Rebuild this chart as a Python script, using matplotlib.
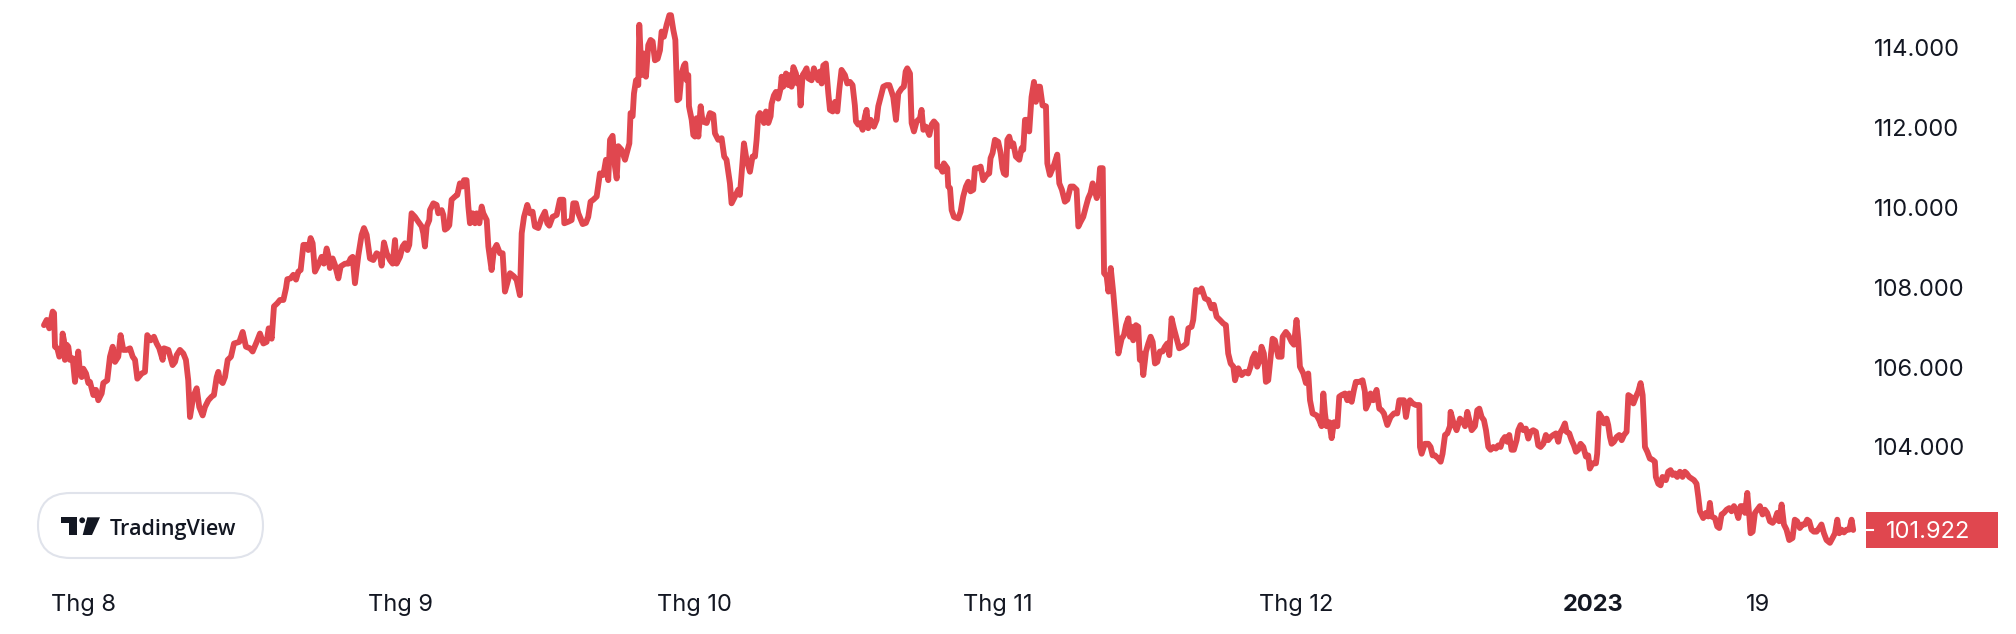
import numpy as np
import matplotlib
matplotlib.use("Agg")
import matplotlib.pyplot as plt
from matplotlib.patches import FancyBboxPatch, Rectangle, Polygon, Circle

plt.rcParams['font.family'] = ['Inter', 'DejaVu Sans']

############################################################################
# DXY line: (trading days since 1 Aug 2022, index value)
############################################################################

aug = [(-2.94, 107.05), (-2.74, 107.18), (-2.55, 106.97), (-2.30, 107.39), (-2.20, 107.35), (-2.13, 106.51),
       (-1.96, 106.47), (-1.81, 106.26), (-1.64, 106.34), (-1.57, 106.84), (-1.47, 106.67), (-1.40, 106.18),
       (-1.27, 106.56), (-1.15, 106.51), (-1.03, 106.18), (-0.83, 106.22), (-0.66, 105.63), (-0.42, 106.39),
       (-0.29, 105.84), (-0.17, 105.75), (-0.05, 105.96), (0.15, 105.84), (0.32, 105.60), (0.44, 105.63),
       (0.69, 105.30), (0.88, 105.43), (1.05, 105.17), (1.30, 105.34), (1.42, 105.60), (1.71, 105.67),
       (1.91, 106.26), (2.11, 106.51), (2.28, 106.13), (2.52, 106.26), (2.69, 106.80), (2.89, 106.43),
       (3.13, 106.43), (3.38, 106.47), (3.58, 106.26), (3.75, 106.18), (3.92, 105.71), (4.24, 105.84),
       (4.48, 105.88), (4.65, 106.80), (4.90, 106.67), (5.14, 106.76), (5.34, 106.59), (5.53, 106.47),
       (5.78, 106.18), (5.88, 106.47), (6.20, 106.43), (6.51, 106.05), (6.69, 106.13), (6.81, 106.30),
       (7.05, 106.43), (7.30, 106.34), (7.49, 106.18), (7.66, 105.67), (7.79, 104.75), (8.03, 105.26),
       (8.28, 105.47), (8.47, 105.00), (8.72, 104.79), (8.89, 105.00), (9.14, 105.17), (9.38, 105.26),
       (9.55, 105.30), (9.75, 105.75), (9.87, 105.88), (9.99, 105.67), (10.19, 105.60), (10.36, 105.75),
       (10.56, 106.18), (10.80, 106.26), (11.02, 106.59), (11.41, 106.63), (11.66, 106.88), (11.90, 106.51),
       (12.20, 106.47), (12.39, 106.39), (12.69, 106.63), (12.93, 106.84), (13.18, 106.59), (13.42, 106.63),
       (13.57, 106.97), (13.79, 106.71), (13.96, 107.52), (14.21, 107.60), (14.40, 107.68), (14.65, 107.68),
       (14.84, 107.97), (14.94, 108.20), (15.18, 108.22), (15.38, 108.31), (15.58, 108.19), (15.75, 108.39),
       (15.92, 108.43), (16.12, 109.06), (16.31, 109.06), (16.48, 108.93), (16.65, 109.23), (16.80, 109.10),
       (16.97, 108.39), (17.22, 108.56), (17.46, 108.76), (17.63, 108.59), (17.83, 108.97), (17.95, 108.80),
       (18.07, 108.48), (18.27, 108.72), (18.44, 108.56), (18.69, 108.22), (18.86, 108.52), (19.18, 108.59),
       (19.42, 108.59), (19.59, 108.72), (19.74, 108.76), (19.91, 108.10), (20.16, 108.80), (20.40, 109.31),
       (20.57, 109.48), (20.77, 109.31), (21.01, 108.72), (21.26, 108.68), (21.50, 108.85), (21.75, 108.80),
       (21.87, 108.54), (22.04, 109.12), (22.24, 108.85), (22.48, 108.68), (22.68, 108.59), (22.85, 109.18),
       (22.97, 108.59)]

sep = [(23.22, 108.76), (23.41, 109.02), (23.58, 109.10), (23.76, 108.93), (23.90, 109.06), (24.07, 109.85),
       (24.32, 109.76), (24.56, 109.64), (24.81, 109.52), (24.93, 109.35), (25.05, 109.02), (25.18, 109.52),
       (25.37, 109.68), (25.42, 109.93), (25.67, 110.10), (25.91, 110.06), (26.03, 109.85), (26.28, 109.93),
       (26.40, 109.81), (26.52, 109.44), (26.69, 109.48), (26.84, 109.55), (27.01, 110.19), (27.26, 110.27),
       (27.43, 110.31), (27.62, 110.60), (27.82, 110.52), (27.92, 110.68), (28.11, 110.68), (28.24, 110.02),
       (28.36, 109.60), (28.56, 109.85), (28.73, 109.60), (28.85, 109.85), (29.05, 109.60), (29.22, 110.02),
       (29.34, 109.85), (29.59, 109.68), (29.71, 109.02), (29.95, 108.43), (30.12, 108.93), (30.32, 109.06),
       (30.56, 108.85), (30.76, 108.85), (30.93, 107.89), (31.10, 108.10), (31.30, 108.35), (31.59, 108.27),
       (31.79, 108.18), (32.03, 107.80), (32.16, 109.35), (32.33, 109.76), (32.57, 110.06), (32.77, 109.85),
       (32.96, 109.89), (33.13, 109.52), (33.38, 109.48), (33.62, 109.72), (33.87, 109.89), (34.04, 109.60),
       (34.19, 109.54), (34.43, 109.76), (34.73, 109.81), (34.97, 110.19), (35.22, 110.19), (35.29, 109.60),
       (35.59, 109.64), (35.83, 109.68), (35.95, 110.10), (36.15, 110.10), (36.32, 109.85), (36.64, 109.58),
       (36.88, 109.61), (37.05, 109.76), (37.22, 110.14), (37.42, 110.19), (37.67, 110.27), (37.91, 110.85),
       (38.16, 110.81), (38.35, 111.19), (38.52, 110.68), (38.65, 111.69), (38.84, 111.79), (39.01, 111.02),
       (39.14, 110.72), (39.26, 111.53), (39.50, 111.44), (39.75, 111.19), (40.07, 111.60), (40.16, 112.36),
       (40.31, 112.28), (40.41, 112.85), (40.56, 113.18), (40.73, 113.06), (40.80, 114.57), (40.97, 113.31),
       (41.14, 113.85), (41.29, 113.27), (41.46, 114.06), (41.63, 114.19), (41.78, 114.15), (41.95, 113.68),
       (42.15, 113.72), (42.32, 113.93), (42.44, 114.40), (42.61, 114.27), (42.81, 114.57), (43.01, 114.81),
       (43.13, 114.81), (43.30, 114.44), (43.45, 114.19), (43.59, 112.68), (43.74, 112.72), (43.91, 113.35),
       (44.08, 113.55), (44.18, 113.60), (44.28, 113.18), (44.40, 113.31), (44.45, 112.53), (44.65, 112.19),
       (44.77, 111.81)]

oct_ = [(44.89, 111.77), (45.01, 112.23), (45.14, 111.77), (45.31, 112.53), (45.45, 112.15), (45.75, 112.11),
        (45.99, 112.36), (46.24, 112.32), (46.36, 111.85), (46.60, 111.69), (46.85, 111.73), (47.04, 111.27),
        (47.21, 111.19), (47.46, 110.60), (47.58, 110.10), (47.83, 110.27), (48.07, 110.44), (48.19, 110.31),
        (48.32, 110.85), (48.49, 111.60), (48.68, 111.19), (48.93, 110.89), (49.12, 111.27), (49.30, 111.27),
        (49.42, 111.69), (49.54, 112.28), (49.66, 112.36), (49.79, 112.32), (49.96, 112.11), (50.11, 112.40),
        (50.28, 112.11), (50.45, 112.28), (50.52, 112.59), (50.69, 112.80), (50.84, 112.89), (51.01, 112.72),
        (51.18, 112.97), (51.26, 113.27), (51.38, 113.02), (51.58, 113.35), (51.75, 113.06), (51.87, 113.31),
        (51.99, 113.02), (52.12, 113.51), (52.31, 113.35), (52.41, 113.10), (52.56, 113.23), (52.65, 112.55),
        (52.80, 113.31), (52.97, 113.40), (53.09, 113.48), (53.21, 113.23), (53.46, 113.18), (53.63, 113.48),
        (53.78, 113.31), (53.95, 113.18), (54.07, 113.40), (54.20, 113.10), (54.32, 113.55), (54.51, 113.60),
        (54.69, 112.85), (54.81, 112.44), (55.01, 112.40), (55.18, 112.64), (55.35, 112.40), (55.49, 112.93),
        (55.66, 113.44), (55.91, 113.31), (56.08, 113.10), (56.28, 113.14), (56.47, 113.06), (56.64, 112.55),
        (56.72, 112.15), (56.89, 112.07), (57.06, 112.11), (57.21, 111.94), (57.38, 112.28), (57.50, 112.44),
        (57.62, 111.98), (57.80, 112.19), (58.04, 112.02), (58.24, 112.19), (58.36, 112.53), (58.53, 112.76),
        (58.73, 113.02), (58.97, 113.06), (59.17, 113.06), (59.34, 112.89), (59.46, 112.76), (59.66, 112.19),
        (59.83, 112.85), (60.07, 112.97), (60.24, 113.02), (60.37, 113.40), (60.49, 113.48), (60.69, 113.35),
        (60.81, 112.11), (60.98, 111.90), (61.18, 112.15), (61.42, 112.23), (61.54, 112.44), (61.67, 111.94),
        (61.86, 112.02), (62.11, 111.81), (62.28, 112.07), (62.45, 112.15), (62.65, 112.07), (62.69, 111.02),
        (62.89, 111.02), (63.08, 110.89), (63.18, 111.10), (63.43, 110.98), (63.50, 110.52), (63.63, 110.48),
        (63.75, 109.93), (63.92, 109.76), (64.24, 109.72), (64.41, 109.89), (64.60, 110.27), (64.80, 110.52),
        (64.97, 110.64), (65.14, 110.40), (65.34, 110.44), (65.46, 110.98), (65.71, 110.98), (65.88, 111.02),
        (66.07, 110.68), (66.32, 110.81), (66.51, 110.85), (66.61, 111.23), (66.76, 111.36), (66.93, 111.69)]

nov = [(67.17, 111.64), (67.35, 111.36), (67.49, 110.98), (67.59, 110.85), (67.74, 110.81), (67.84, 111.69),
       (67.98, 111.77), (68.16, 111.53), (68.28, 111.60), (68.47, 111.27), (68.72, 111.19), (68.89, 111.48),
       (69.01, 111.44), (69.14, 112.19), (69.31, 112.19), (69.45, 111.90), (69.62, 112.76), (69.80, 113.14),
       (69.94, 112.64), (70.07, 113.02), (70.24, 113.02), (70.43, 112.55), (70.68, 112.53), (70.78, 111.10),
       (70.97, 110.81), (71.27, 111.06), (71.51, 111.32), (71.66, 110.60), (71.85, 110.44), (72.07, 110.14),
       (72.25, 110.19), (72.49, 110.52), (72.69, 110.52), (72.93, 110.44), (73.06, 109.52), (73.23, 109.64),
       (73.42, 109.76), (73.62, 110.02), (73.79, 110.23), (73.96, 110.36), (74.11, 110.60), (74.28, 110.40),
       (74.41, 110.23), (74.53, 110.44), (74.65, 110.98), (74.85, 110.98), (74.95, 108.35), (75.14, 108.27),
       (75.27, 107.89), (75.44, 108.48), (75.63, 107.84), (75.88, 106.84), (76.00, 106.34), (76.24, 106.71),
       (76.41, 106.80), (76.56, 107.05), (76.73, 107.22), (76.85, 106.76), (76.97, 107.01), (77.09, 106.67),
       (77.29, 107.05), (77.46, 107.01), (77.58, 106.18), (77.71, 106.34), (77.83, 105.80), (78.03, 106.39),
       (78.20, 106.59), (78.37, 106.76), (78.52, 106.63), (78.69, 106.09), (78.86, 106.13), (79.05, 106.39),
       (79.25, 106.39), (79.42, 106.51), (79.59, 106.59), (79.74, 106.30), (79.91, 107.22), (80.08, 106.97),
       (80.28, 106.71), (80.47, 106.47), (80.72, 106.51), (81.01, 106.59), (81.14, 106.97), (81.38, 107.01),
       (81.50, 107.18), (81.70, 107.93), (81.95, 107.89), (82.12, 107.97), (82.36, 107.72), (82.61, 107.68),
       (82.85, 107.47), (83.02, 107.56), (83.22, 107.26), (83.46, 107.18), (83.71, 107.09), (83.90, 107.05),
       (84.07, 106.34), (84.25, 106.09), (84.45, 106.01), (84.57, 105.67), (84.81, 105.97), (85.06, 105.80),
       (85.30, 105.88), (85.54, 105.84), (85.71, 106.01), (85.86, 106.22), (86.03, 106.34), (86.20, 106.01),
       (86.40, 106.18), (86.52, 106.51), (86.69, 106.34), (86.84, 105.63), (87.01, 105.67), (87.14, 106.09),
       (87.33, 106.71), (87.50, 106.67), (87.75, 106.26), (87.99, 106.26), (88.07, 106.76), (88.31, 106.88),
       (88.49, 106.80), (88.73, 106.63), (88.90, 106.56)]

dec = [(89.09, 107.18), (89.22, 106.67), (89.34, 106.01), (89.59, 105.84), (89.78, 105.60), (89.95, 105.84),
       (90.08, 105.17), (90.27, 104.84), (90.57, 104.79), (90.76, 104.67), (90.93, 104.52), (91.06, 105.34),
       (91.18, 104.84), (91.30, 104.52), (91.50, 104.62), (91.67, 104.22), (91.84, 104.62), (92.09, 104.52),
       (92.23, 105.26), (92.40, 105.30), (92.65, 105.34), (92.82, 105.17), (92.97, 105.34), (93.14, 105.13),
       (93.31, 105.43), (93.45, 105.63), (93.70, 105.63), (93.94, 105.67), (94.11, 105.39), (94.19, 104.96),
       (94.36, 105.09), (94.53, 105.34), (94.73, 105.17), (94.97, 105.43), (95.17, 104.96), (95.34, 104.92),
       (95.51, 104.84), (95.76, 104.55), (96.00, 104.75), (96.25, 104.84), (96.49, 104.84), (96.64, 105.17),
       (96.81, 105.17), (96.98, 105.17), (97.13, 104.75), (97.30, 105.09), (97.42, 105.17), (97.62, 105.09),
       (97.86, 105.05), (98.11, 105.05), (98.16, 104.00), (98.28, 103.83), (98.52, 104.08), (98.77, 104.08),
       (98.94, 104.00), (99.09, 103.79), (99.26, 103.79), (99.50, 103.71), (99.68, 103.63), (99.82, 103.83),
       (100.00, 104.30), (100.17, 104.34), (100.36, 104.52), (100.41, 104.88), (100.61, 104.62), (100.85, 104.42),
       (101.10, 104.71), (101.34, 104.62), (101.47, 104.52), (101.64, 104.88), (101.84, 104.60), (101.96, 104.42),
       (102.20, 104.52), (102.37, 104.92), (102.52, 104.96), (102.69, 104.75), (102.86, 104.67), (103.01, 104.42),
       (103.18, 104.00), (103.35, 103.93), (103.54, 104.00), (103.74, 103.96), (103.91, 104.04), (104.08, 104.00),
       (104.23, 104.17), (104.40, 104.25), (104.57, 104.13), (104.72, 104.30), (104.89, 103.93), (105.06, 103.93),
       (105.26, 104.17), (105.38, 104.42), (105.55, 104.55), (105.75, 104.42), (105.94, 104.46), (106.12, 104.21),
       (106.29, 104.38), (106.48, 104.42), (106.68, 104.38), (106.85, 104.04), (107.02, 104.00), (107.22, 104.08),
       (107.41, 104.30), (107.58, 104.17), (107.76, 104.25), (107.95, 104.30), (108.15, 104.34), (108.32, 104.13),
       (108.44, 104.34), (108.64, 104.46), (108.81, 104.59), (108.93, 104.38), (109.13, 104.34), (109.30, 104.17),
       (109.47, 104.04), (109.62, 103.88), (109.79, 103.93), (109.96, 104.08), (110.16, 104.00), (110.35, 103.76),
       (110.52, 103.79), (110.64, 103.46), (110.84, 103.59)]

jan = [(111.09, 103.59), (111.18, 103.83), (111.33, 104.84), (111.50, 104.75), (111.68, 104.59), (111.87, 104.71),
       (111.99, 104.55), (112.12, 104.25), (112.24, 104.08), (112.41, 104.13), (112.61, 104.25), (112.80, 104.30),
       (112.98, 104.17), (113.15, 104.30), (113.34, 104.38), (113.47, 105.30), (113.64, 105.26), (113.84, 105.09),
       (114.03, 105.26), (114.20, 105.39), (114.37, 105.60), (114.52, 105.30), (114.62, 104.59), (114.69, 104.00),
       (114.86, 103.88), (115.05, 103.71), (115.25, 103.68), (115.42, 103.63), (115.49, 103.25), (115.67, 103.08),
       (115.84, 103.04), (115.98, 103.25), (116.23, 103.17), (116.40, 103.38), (116.57, 103.42), (116.72, 103.30),
       (116.89, 103.34), (117.06, 103.25), (117.26, 103.38), (117.45, 103.25), (117.62, 103.38), (117.75, 103.34),
       (117.94, 103.25), (118.11, 103.21), (118.29, 103.17), (118.48, 103.08), (118.61, 102.75), (118.73, 102.39),
       (118.97, 102.22), (119.17, 102.35), (119.34, 102.26), (119.46, 102.60), (119.58, 102.26), (119.83, 102.22),
       (120.00, 102.01), (120.15, 101.97), (120.32, 102.31), (120.49, 102.35), (120.69, 102.43), (120.88, 102.47),
       (121.05, 102.39), (121.23, 102.52), (121.37, 102.43), (121.55, 102.22), (121.72, 102.52), (121.87, 102.52),
       (122.04, 102.35), (122.21, 102.85), (122.36, 102.26), (122.45, 101.84), (122.60, 101.88), (122.77, 102.35),
       (122.94, 102.43), (123.14, 102.52), (123.33, 102.31), (123.50, 102.43), (123.67, 102.35), (123.87, 102.14),
       (124.07, 102.10), (124.24, 102.18), (124.41, 102.35), (124.55, 102.14), (124.73, 102.56), (124.90, 102.06),
       (125.09, 101.93), (125.29, 101.67), (125.53, 101.72), (125.70, 102.18), (125.87, 102.14), (126.07, 101.97),
       (126.26, 102.06), (126.44, 102.06), (126.61, 102.18), (126.76, 102.14), (126.93, 101.93), (127.10, 101.88),
       (127.30, 101.88), (127.49, 101.97), (127.66, 102.06), (127.84, 101.84), (128.03, 101.67), (128.28, 101.60),
       (128.47, 101.72), (128.65, 101.84), (128.82, 102.18), (128.96, 101.84), (129.14, 101.93), (129.31, 101.86),
       (129.50, 101.93), (129.70, 101.93), (129.87, 102.18), (129.99, 101.922)]

# axis labels
month_pos = [0, 23.22, 44.82, 67.16, 89.05, 110.87, 123.0]
month_labels = ['Thg 8', 'Thg 9', 'Thg 10', 'Thg 11', 'Thg 12', '2023', '19']
price_ticks = [104, 106, 108, 110, 112, 114]

days, dxy = np.array(aug + sep + oct_ + nov + dec + jan).T

RED = '#e0474f'
INK = '#131722'
W, H = 2016, 634

############################################################################
# Plot
############################################################################

fig = plt.figure(figsize=(W / 100, H / 100), dpi=100)
fig.patch.set_facecolor('white')
ax = fig.add_axes([0, 64 / H, 1860 / W, 570 / H])
ax.plot(days, dxy, color=RED, lw=4.2, solid_joinstyle='round', solid_capstyle='round')
ax.set_xlim(-6.17, 130.49)
ax.set_ylim(100.92, 115.19)
for s in ax.spines.values():
    s.set_visible(False)

ax.yaxis.tick_right()
ax.set_yticks(price_ticks)
ax.set_yticklabels([f'{v:.3f}' for v in price_ticks])
ax.tick_params(axis='y', length=0, pad=10, labelsize=17, labelcolor=INK)

ax.set_xticks(month_pos)
ax.set_xticklabels(month_labels)
ax.tick_params(axis='x', length=0, pad=17, labelsize=17, labelcolor=INK)
ax.get_xticklabels()[5].set_fontweight('bold')

# overlay in pixel coordinates for the badge and the last-price tag
ov = fig.add_axes([0, 0, 1, 1], zorder=5)
ov.set_xlim(0, W)
ov.set_ylim(H, 0)
ov.axis('off')
ov.patch.set_alpha(0)

last_y = H - ax.transData.transform((days[-1], dxy[-1]))[1]
ov.add_patch(Rectangle((1866, last_y - 18), 132, 36, fc=RED, ec='none'))
ov.plot([1866, 1873], [last_y, last_y], color='white', lw=1.5)
ov.text(1886, last_y, f'{dxy[-1]:.3f}', color='white', fontsize=17, va='center_baseline', ha='left')

# TradingView badge
ov.add_patch(FancyBboxPatch((38, 493), 225, 65, boxstyle='round,pad=0,rounding_size=32.5',
                            fc='white', ec='#e0e3eb', lw=1.5))
ov.add_patch(Polygon([(60.7, 517.3), (76.7, 517.3), (76.7, 535), (69.3, 535), (69.3, 523.3), (60.7, 523.3)],
                     closed=True, fc=INK, ec='none'))
ov.add_patch(Circle((82.2, 520.3), 2.9, fc=INK, ec='none'))
ov.add_patch(Polygon([(87.3, 517.3), (100, 517.3), (92, 535), (82.7, 535)], closed=True, fc=INK, ec='none'))
ov.text(110, 535, 'TradingView', color=INK, fontsize=15.5, fontweight='semibold', family='Open Sans',
        va='baseline', ha='left')

fig.savefig('out.png', dpi=100, facecolor='white')
